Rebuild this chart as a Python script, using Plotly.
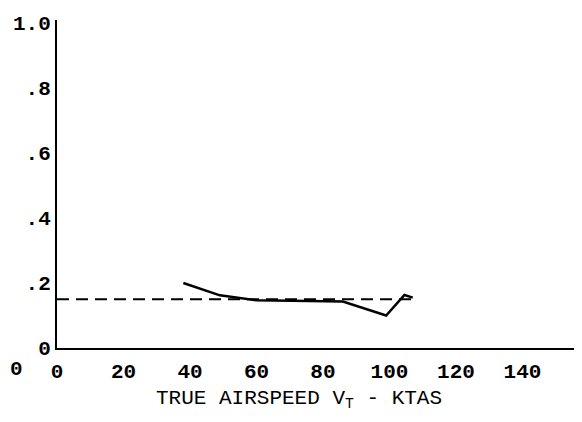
import plotly.graph_objects as go

# data
airspeed = [38, 49, 60, 70, 80, 86, 99, 104.5, 107]
ratio = [0.20, 0.162, 0.147, 0.145, 0.145, 0.143, 0.10, 0.163, 0.155]

ref_x = [0, 108]
ref_y = [0.15, 0.15]

x_ticks = [0, 20, 40, 60, 80, 100, 120, 140]
y_ticks = [0, 0.2, 0.4, 0.6, 0.8, 1.0]
y_labels = ['0', '.2', '.4', '.6', '.8', '1.0']

font = dict(family='Liberation Mono, Courier New, monospace', size=21, color='black')
tick_font = dict(family='Liberation Mono, Courier New, monospace', size=21, color='black', weight='bold')

fig = go.Figure()

# dashed reference line
fig.add_trace(go.Scatter(
    x=ref_x,
    y=ref_y,
    mode='lines',
    line=dict(color='black', width=2, dash='12px,7px'),
))

# measured curve
fig.add_trace(go.Scatter(
    x=airspeed,
    y=ratio,
    mode='lines',
    line=dict(color='black', width=2.5),
))

# page body has an 8px margin -> keep figure small enough that no scrollbars show up
fig.update_layout(
    width=566,
    height=406,
    margin=dict(l=49, r=0, t=12, b=66),
    plot_bgcolor='white',
    paper_bgcolor='white',
    showlegend=False,
    font=font,
)

fig.update_xaxes(
    range=[0, 155.5],
    tickvals=x_ticks,
    tickfont=tick_font,
    showgrid=False,
    zeroline=False,
    showline=True,
    linecolor='black',
    linewidth=2,
    ticks='',
    ticklabelstandoff=3,
)
fig.update_yaxes(
    range=[0, 1.009],
    tickvals=y_ticks,
    ticktext=y_labels,
    tickfont=tick_font,
    showgrid=False,
    zeroline=False,
    showline=True,
    linecolor='black',
    linewidth=2,
    ticks='',
    ticklabelstandoff=0,
)

# axis title and the stray zero at the far left
fig.add_annotation(
    text='TRUE AIRSPEED V<sub>T</sub> - KTAS',
    xref='paper', yref='paper',
    x=0.468, y=-0.158,
    xanchor='center', yanchor='middle',
    showarrow=False,
    font=font,
)
fig.add_annotation(
    text='0',
    xref='paper', yref='paper',
    x=-0.094, y=-0.067,
    xanchor='left', yanchor='middle',
    showarrow=False,
    font=tick_font,
)

fig.write_html("out.html")
